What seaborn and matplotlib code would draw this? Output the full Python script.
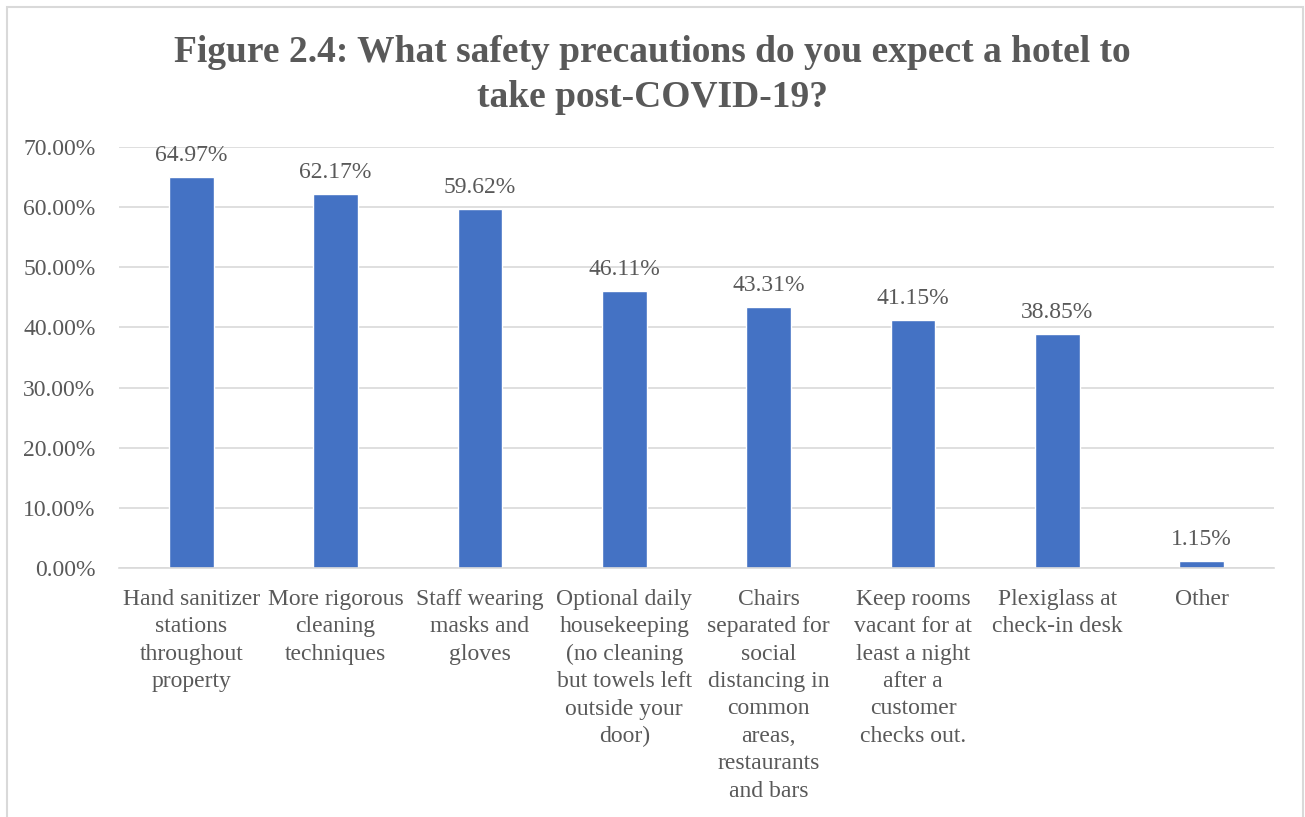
import matplotlib
matplotlib.use("Agg")
import matplotlib.pyplot as plt
import seaborn as sns
import pandas as pd
from matplotlib.patches import Rectangle
from matplotlib.ticker import FuncFormatter, MultipleLocator

categories = [
    "Hand sanitizer\nstations\nthroughout\nproperty",
    "More rigorous\ncleaning\ntechniques",
    "Staff wearing\nmasks and\ngloves",
    "Optional daily\nhousekeeping\n(no cleaning\nbut towels left\noutside your\ndoor)",
    "Chairs\nseparated for\nsocial\ndistancing in\ncommon\nareas,\nrestaurants\nand bars",
    "Keep rooms\nvacant for at\nleast a night\nafter a\ncustomer\nchecks out.",
    "Plexiglass at\ncheck-in desk",
    "Other",
]
values = [64.97, 62.17, 59.62, 46.11, 43.31, 41.15, 38.85, 1.15]
title = "Figure 2.4: What safety precautions do you expect a hotel to\ntake post-COVID-19?"

df = pd.DataFrame({"category": categories, "value": values})

sns.set_theme(style="white")
plt.rcParams["font.family"] = ["Liberation Serif", "DejaVu Serif"]

TEXT = "#595959"
GRID = "#d9d9d9"
BAR = "#4472c4"

fig = plt.figure(figsize=(13.05, 8.17), dpi=100)
ax = fig.add_axes([0.0912, 0.3048, 0.9762 - 0.0912, 0.8201 - 0.3048])

sns.barplot(data=df, x="category", y="value", color=BAR, width=0.31,
            saturation=1, ax=ax, zorder=3)

ax.set_ylim(0, 70)
ax.set_xlim(-0.5, len(categories) - 0.5)
ax.yaxis.set_major_locator(MultipleLocator(10))
ax.yaxis.set_major_formatter(FuncFormatter(lambda v, p: f"{v:.2f}%"))
ax.grid(axis="y", color=GRID, linewidth=1.2, zorder=0)
for s in ["top", "right", "left"]:
    ax.spines[s].set_visible(False)
ax.spines["bottom"].set_color(GRID)
ax.spines["bottom"].set_linewidth(1.2)
ax.spines["bottom"].set_zorder(4)
ax.set_xlabel("")
ax.set_ylabel("")
ax.tick_params(axis="y", length=0, pad=17, labelsize=17, labelcolor=TEXT)
ax.tick_params(axis="x", length=0, pad=15, labelsize=17, labelcolor=TEXT)
for lab in ax.get_xticklabels():
    lab.set_linespacing(1.40)
    lab.set_verticalalignment("top")

for i, v in enumerate(values):
    ax.annotate(f"{v:.2f}%", (i, v), xytext=(0, 8), textcoords="offset points",
                ha="center", va="bottom", fontsize=17, color=TEXT)

fig.text(0.5, 1 - 75 / 817, title, ha="center", va="center", fontsize=27,
         fontweight="bold", color=TEXT, linespacing=1.36)

fig.patches.append(Rectangle((7 / 1305, -0.05), (1303 - 7) / 1305, 1 - 7 / 817 + 0.05,
                             transform=fig.transFigure, fill=False,
                             edgecolor="#d9d9d9", linewidth=1.5))

fig.savefig("out.png", dpi=100, facecolor="white")
